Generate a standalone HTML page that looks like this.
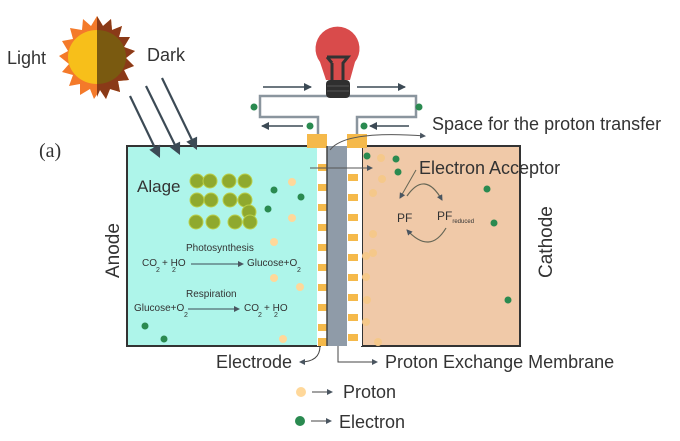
<!DOCTYPE html>
<html><head><meta charset="utf-8"><style>
html,body{margin:0;padding:0;background:#fff}
svg{display:block}
text{font-family:"Liberation Sans",sans-serif;fill:#333}
</style></head><body>
<svg width="680" height="441" viewBox="0 0 680 441" xmlns="http://www.w3.org/2000/svg">
<defs>
<marker id="ah" markerWidth="8" markerHeight="8" refX="7" refY="4" orient="auto" markerUnits="userSpaceOnUse"><path d="M0,0 L8,4 L0,8 z" fill="#3c4a55"/></marker>
<marker id="ahs" markerWidth="6" markerHeight="6" refX="5" refY="3" orient="auto" markerUnits="userSpaceOnUse"><path d="M0,0 L6,3 L0,6 z" fill="#4a5560"/></marker>
</defs>
<!-- sun -->
<g transform="translate(97,57)">
<polygon fill="#f47a2a" points="0,-41 6,-31 14,-38 15,-27 25,-31 22,-20 33,-20 27,-10 38,-6 29,1 37,9 27,13 32,23 21,24 23,35 13,32 9,42 3,33 -3,42 -7,32 -17,38 -17,27 -28,29 -24,18 -35,15 -28,7 -38,-1 -29,-6 -35,-16 -24,-18 -27,-29 -15,-27 -14,-38 -6,-31"/>
<path d="M0,-41 L6,-31 14,-38 15,-27 25,-31 22,-20 33,-20 27,-10 38,-6 29,1 37,9 27,13 32,23 21,24 23,35 13,32 9,42 3,33 0,40 z" fill="#8a3a18"/>
<path d="M0,-27 A29,27 0 0 0 0,27 z" fill="#f7bf1a"/>
<path d="M0,-27 A29,27 0 0 1 0,27 z" fill="#7a5a10"/>
</g>
<text x="7" y="64" font-size="18">Light</text>
<text x="147" y="61" font-size="18">Dark</text>
<text x="39" y="157" font-size="20" style="font-family:'Liberation Serif',serif" fill="#222">(a)</text>
<!-- anode -->
<rect x="127" y="146" width="193" height="200" fill="#aef5ea" stroke="#333" stroke-width="2"/>
<!-- light arrows -->
<g stroke="#3c4a55" stroke-width="2.2">
<line x1="130" y1="96" x2="155" y2="148"/>
<line x1="146" y1="86" x2="175" y2="145"/>
<line x1="162" y1="78" x2="192" y2="140"/>
</g>
<g fill="#3c4a55">
<polygon points="160,158 160.1,144.6 149.3,149.8"/>
<polygon points="180,155 180.1,141.6 169.3,146.8"/>
<polygon points="197,150 197.1,136.6 186.3,141.8"/>
</g>
<!-- cathode -->
<rect x="362" y="146" width="158" height="200" fill="#f0c9a8" stroke="#333" stroke-width="2"/>
<!-- electrode strips -->
<rect x="317" y="146" width="11" height="200" fill="#fff"/>
<rect x="347" y="146" width="15" height="200" fill="#fff"/>
<g fill="#f5b94a">
<rect x="307" y="134" width="20" height="14"/>
<rect x="347" y="134" width="20" height="14"/>
</g>
<g fill="#f5b94a">
<rect x="318" y="164" width="9" height="7"/><rect x="318" y="184" width="9" height="7"/><rect x="318" y="204" width="9" height="7"/><rect x="318" y="224" width="9" height="7"/><rect x="318" y="244" width="9" height="7"/><rect x="318" y="264" width="9" height="7"/><rect x="318" y="284" width="9" height="7"/><rect x="318" y="304" width="9" height="7"/><rect x="318" y="324" width="9" height="7"/><rect x="318" y="338" width="9" height="8"/>
<rect x="348" y="174" width="10" height="7"/><rect x="348" y="194" width="10" height="7"/><rect x="348" y="214" width="10" height="7"/><rect x="348" y="234" width="10" height="7"/><rect x="348" y="254" width="10" height="7"/><rect x="348" y="274" width="10" height="7"/><rect x="348" y="294" width="10" height="7"/><rect x="348" y="314" width="10" height="7"/><rect x="348" y="334" width="10" height="7"/>
</g>
<rect x="327" y="146" width="20" height="200" fill="#8f9ba8"/>
<line x1="327" y1="146" x2="327" y2="346" stroke="#444" stroke-width="1.5"/>
<!-- wires -->
<g fill="none" stroke="#8a959e" stroke-width="2.5">
<path d="M318,134 V117 H260 V96 H330"/>
<path d="M357,134 V117 H416 V96 H345"/>
</g>
<g stroke="#3c4a55" stroke-width="1.5">
<line x1="263" y1="87" x2="311" y2="87" marker-end="url(#ah)"/>
<line x1="357" y1="87" x2="405" y2="87" marker-end="url(#ah)"/>
<line x1="303" y1="126" x2="262" y2="126" marker-end="url(#ah)"/>
<line x1="409" y1="126" x2="370" y2="126" marker-end="url(#ah)"/>
</g>
<!-- bulb -->
<path d="M320,62 A22,22 0 1 1 355,62 L350,80 H326 Z" fill="#d94b4b"/>
<path d="M327,57 H348 L343,63 V80 M332,63 V80 M327,57 L332,63" fill="none" stroke="#333" stroke-width="3"/>
<rect x="326" y="80" width="24" height="18" rx="4" fill="#2f2f2f"/>
<line x1="327" y1="86" x2="349" y2="86" stroke="#555"/><line x1="327" y1="91" x2="349" y2="91" stroke="#555"/>
<!-- space arrow -->
<path d="M330,150 Q345,130 425,136" fill="none" stroke="#555" stroke-width="1" marker-end="url(#ahs)"/>
<line x1="310" y1="168" x2="372" y2="168" stroke="#555" stroke-width="1" marker-end="url(#ahs)"/>
<text x="432" y="130" font-size="18">Space for the proton transfer</text>
<text x="419" y="174" font-size="18">Electron Acceptor</text>
<!-- PF cycle -->
<line x1="416" y1="170" x2="400" y2="198" stroke="#665" stroke-width="1" marker-end="url(#ahs)"/>
<path d="M407,196 Q425,170 442,200" fill="none" stroke="#665" stroke-width="1.2" marker-end="url(#ahs)"/>
<path d="M446,228 Q430,255 407,230" fill="none" stroke="#665" stroke-width="1.2" marker-end="url(#ahs)"/>
<text x="397" y="222" font-size="12" fill="#806450">PF</text>
<text x="437" y="220" font-size="12" fill="#806450">PF<tspan font-size="6" dy="3">reduced</tspan></text>
<text transform="translate(552,278) rotate(-90)" font-size="19">Cathode</text>
<text transform="translate(119,278) rotate(-90)" font-size="19">Anode</text>
<!-- algae -->
<g fill="#8fa92e" stroke="#b9cf4a" stroke-width="1">
<circle cx="197" cy="181" r="7"/><circle cx="210" cy="181" r="7"/><circle cx="229" cy="181" r="7"/><circle cx="245" cy="181" r="7"/>
<circle cx="197" cy="200" r="7"/><circle cx="211" cy="200" r="7"/><circle cx="230" cy="200" r="7"/><circle cx="245" cy="200" r="7"/><circle cx="249" cy="212" r="7"/>
<circle cx="196" cy="222" r="7"/><circle cx="213" cy="222" r="7"/><circle cx="235" cy="222" r="7"/><circle cx="250" cy="222" r="7"/>
</g>
<text x="137" y="192" font-size="17">Alage</text>
<g font-size="10" fill="#444">
<text x="186" y="251">Photosynthesis</text>
<text x="142" y="266">CO</text><text x="156" y="272" font-size="7">2</text>
<text x="162" y="266">+ HO</text><text x="172" y="272" font-size="7">2</text>
<line x1="191" y1="264" x2="243" y2="264" stroke="#3c4a55" marker-end="url(#ahs)"/>
<text x="247" y="266">Glucose+O</text><text x="297" y="272" font-size="7">2</text>
<text x="186" y="297">Respiration</text>
<text x="134" y="311">Glucose+O</text><text x="184" y="317" font-size="7">2</text>
<line x1="188" y1="309" x2="239" y2="309" stroke="#3c4a55" marker-end="url(#ahs)"/>
<text x="244" y="311">CO</text><text x="258" y="317" font-size="7">2</text>
<text x="264" y="311">+ HO</text><text x="274" y="317" font-size="7">2</text>
</g>
<!-- dots -->
<g fill="#ffd89a">
<circle cx="292" cy="182" r="4"/><circle cx="292" cy="218" r="4"/><circle cx="274" cy="242" r="4"/><circle cx="274" cy="278" r="4"/><circle cx="300" cy="287" r="4"/><circle cx="283" cy="339" r="4"/>
</g>
<g fill="#f5c88a">
<circle cx="381" cy="158" r="4"/><circle cx="382" cy="179" r="4"/><circle cx="373" cy="193" r="4"/><circle cx="373" cy="234" r="4"/><circle cx="373" cy="253" r="4"/><circle cx="366" cy="256" r="4"/><circle cx="366" cy="277" r="4"/><circle cx="367" cy="300" r="4"/><circle cx="366" cy="322" r="4"/><circle cx="378" cy="342" r="4"/>
</g>
<g fill="#2a8a50">
<circle cx="274" cy="190" r="3.5"/><circle cx="301" cy="197" r="3.5"/><circle cx="268" cy="209" r="3.5"/><circle cx="145" cy="326" r="3.5"/><circle cx="164" cy="339" r="3.5"/>
<circle cx="367" cy="156" r="3.5"/><circle cx="396" cy="159" r="3.5"/><circle cx="398" cy="172" r="3.5"/><circle cx="487" cy="189" r="3.5"/><circle cx="494" cy="223" r="3.5"/><circle cx="508" cy="300" r="3.5"/>
<circle cx="254" cy="107" r="3.5"/><circle cx="310" cy="126" r="3.5"/><circle cx="364" cy="126" r="3.5"/><circle cx="419" cy="107" r="3.5"/>
</g>
<!-- bottom labels -->
<path d="M320,346 Q320,362 300,362" fill="none" stroke="#444" marker-end="url(#ahs)"/>
<text x="216" y="368" font-size="18">Electrode</text>
<path d="M338,346 V362 H377" fill="none" stroke="#444" marker-end="url(#ahs)"/>
<text x="385" y="368" font-size="18">Proton Exchange Membrane</text>
<circle cx="301" cy="392" r="5" fill="#ffd89a"/>
<line x1="312" y1="392" x2="332" y2="392" stroke="#444" marker-end="url(#ahs)"/>
<text x="343" y="398" font-size="18">Proton</text>
<circle cx="300" cy="421" r="5" fill="#2a8a50"/>
<line x1="311" y1="421" x2="331" y2="421" stroke="#444" marker-end="url(#ahs)"/>
<text x="339" y="428" font-size="18">Electron</text>
</svg>
</body></html>
